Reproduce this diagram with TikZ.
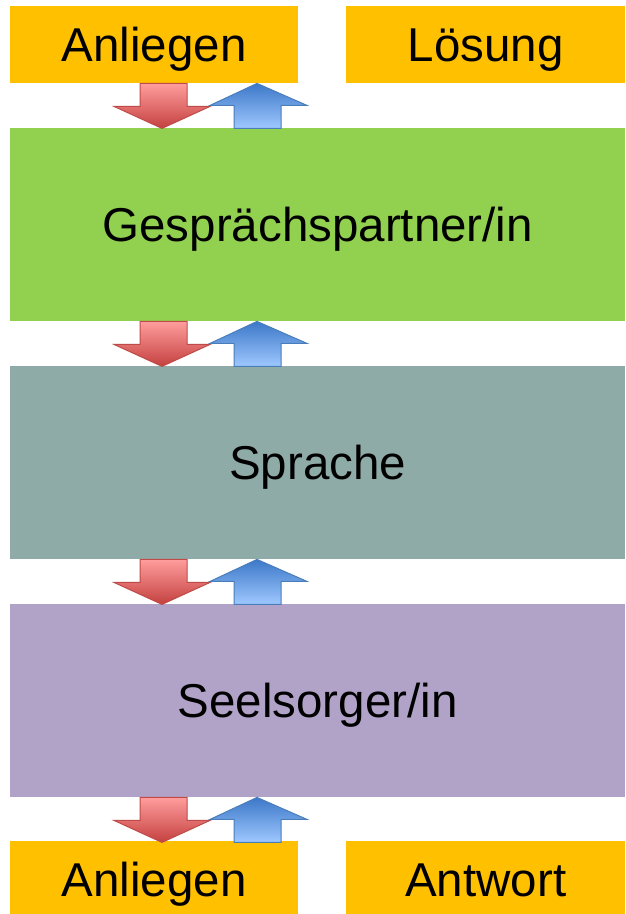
\documentclass[tikz,border=0pt]{standalone}
\usepackage{fontspec}
\setmainfont{Liberation Sans}
\usetikzlibrary{positioning}
\definecolor{boxorange}{HTML}{FFC000}
\definecolor{boxgreen}{HTML}{92D050}
\definecolor{boxgrey}{HTML}{8FABA7}
\definecolor{boxlilac}{HTML}{B1A2C8}
\definecolor{redline}{HTML}{BE4B48}
\definecolor{redlight}{HTML}{FF9D9D}
\definecolor{reddark}{HTML}{C4413F}
\definecolor{blueline}{HTML}{4A7EBB}
\definecolor{bluedark}{HTML}{3C78C8}
\definecolor{bluelight}{HTML}{9FC8FF}
\tikzset{
  box/.style={inner sep=0pt, anchor=north west, text height=34pt, text depth=0pt,
    font=\fontsize{47.5pt}{56pt}\selectfont},
  smallbox/.style={box, fill=boxorange, minimum width=288pt, minimum height=77pt},
  bigbox/.style={box, minimum width=615pt, minimum height=193pt},
  downarr/.pic={
    \draw[redline, line width=1pt, top color=redlight, bottom color=reddark]
      (130,0) -- (177,0) -- (177,23) -- (200,23) -- (152,45) -- (104,23) -- (130,23) -- cycle;},
  uparr/.pic={
    \draw[blueline, line width=1pt, top color=bluedark, bottom color=bluelight]
      (224,45) -- (271,45) -- (271,22) -- (297,22) -- (247,0) -- (200,22) -- (224,22) -- cycle;}
}
\begin{document}
\begin{tikzpicture}[x=1pt, y=-1pt]
  \useasboundingbox (0,0) rectangle (625,914);

  \node[smallbox] (anl1) at (10,6) {Anliegen};
  \node[smallbox, minimum width=279pt] (loes) at (346,6) {Lösung};
  \node[bigbox, fill=boxgreen] (partner) at (10,128) {Gesprächspartner/in};
  \node[bigbox, fill=boxgrey] (sprache) at (10,366) {Sprache};
  \node[bigbox, fill=boxlilac] (seel) at (10,604) {Seelsorger/in};
  \node[smallbox] (anl2) at (10,841) {Anliegen};
  \node[smallbox, minimum width=279pt] (antw) at (346,841) {Antwort};

  % red goes down, blue comes back up
  \foreach \a in {anl1,partner,sprache,seel}
    \path (\a.south west) pic {downarr} pic {uparr};
\end{tikzpicture}
\end{document}
